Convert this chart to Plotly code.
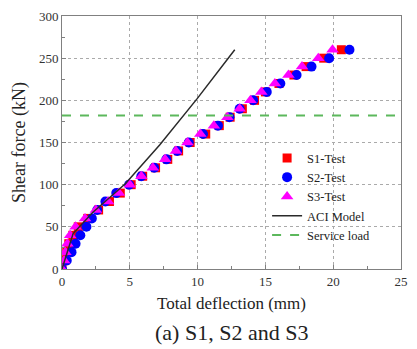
import plotly.graph_objects as go

loads = [0, 10, 20, 30, 40, 50, 60, 70, 80, 90, 100, 110, 120, 130, 140, 150, 160,
         170, 180, 190, 200, 210, 220, 230, 240, 250, 260]
s1_defl = [0, 0.2, 0.35, 0.5, 0.8, 1.2, 1.9, 2.7, 3.5, 4.3, 5.1, 5.95, 6.9, 7.8, 8.6,
           9.45, 10.6, 11.6, 12.4, 13.3, 14.2, 15.0, 16.0, 17.1, 18.0, 19.3, 20.6]
s2_defl = [0, 0.35, 0.7, 1.0, 1.35, 1.8, 2.2, 2.6, 3.2, 4.0, 4.95, 5.85, 6.8, 7.7, 8.5,
           9.35, 10.4, 11.5, 12.35, 13.1, 14.1, 15.1, 16.1, 17.3, 18.4, 19.7, 21.2]
s3_defl = [0, 0.15, 0.25, 0.4, 0.6, 1.0, 1.7, 2.5, 3.4, 4.2, 5.0, 5.85, 6.7, 7.6, 8.4,
           9.25, 10.2, 11.2, 12.2, 13.1, 13.9, 14.7, 15.7, 16.7, 17.7, 18.9, 19.95]

aci_defl = [0, 0.82, 2.26, 4.67, 7.2, 9.97, 12.74]
aci_load = [0, 42, 67, 101, 147, 202, 260]

service_load = 182
service_x = [0, 25]

x_ticks = [0, 5, 10, 15, 20, 25]
y_ticks = [0, 50, 100, 150, 200, 250, 300]

SERIF = "Liberation Serif, Times New Roman, serif"

fig = go.Figure()
fig.add_trace(go.Scatter(x=s1_defl, y=loads, mode="markers", name="S1-Test",
                         marker=dict(symbol="square", size=9, color="#ff0000")))
fig.add_trace(go.Scatter(x=s2_defl, y=loads, mode="markers", name="S2-Test",
                         marker=dict(symbol="circle", size=10, color="#0000ff")))
fig.add_trace(go.Scatter(x=s3_defl, y=loads, mode="markers", name="S3-Test",
                         marker=dict(symbol="triangle-up", size=11, color="#ff00ff")))
fig.add_trace(go.Scatter(x=aci_defl, y=aci_load, mode="lines", name="ACI Model",
                         line=dict(color="#2a2a2a", width=1.5)))
fig.add_trace(go.Scatter(x=service_x, y=[service_load, service_load], mode="lines",
                         name="Service load",
                         line=dict(color="#5cb85c", width=2, dash="dash")))

axis_common = dict(
    showline=True, linecolor="#808080", linewidth=1, mirror=True,
    showgrid=True, gridcolor="#aaaaaa", griddash="dot", gridwidth=1,
    ticks="inside", ticklen=4, tickcolor="#808080",
    tickfont=dict(family=SERIF, size=13, color="#333333"),
    zeroline=False,
)

fig.update_xaxes(range=[0, 25], tickvals=x_ticks,
                 minor=dict(dtick=2.5, ticks="inside", ticklen=3, tickcolor="#808080", showgrid=False),
                 title=dict(text="Total deflection (mm)", font=dict(family=SERIF, size=17, color="#222222"),
                            standoff=9),
                 **axis_common)
fig.update_yaxes(range=[0, 300], tickvals=y_ticks,
                 minor=dict(dtick=25, ticks="inside", ticklen=3, tickcolor="#808080", showgrid=False),
                 title=dict(text="Shear force (kN)", font=dict(family=SERIF, size=18, color="#222222"),
                            standoff=8),
                 **axis_common)

fig.add_annotation(text="(a) S1, S2 and S3", xref="paper", yref="paper", x=0.5, y=-0.25,
                   xanchor="center", yanchor="middle", showarrow=False,
                   font=dict(family=SERIF, size=22, color="#222222"))

fig.update_layout(
    width=417, height=349,
    margin=dict(l=62, r=9, t=14, b=80),
    plot_bgcolor="white", paper_bgcolor="white",
    legend=dict(x=0.605, y=0.497, xanchor="left", yanchor="top",
                font=dict(family=SERIF, size=12.5, color="#222222"),
                bgcolor="rgba(0,0,0,0)", tracegroupgap=0, itemwidth=30),
)

fig.write_html("out.html")
